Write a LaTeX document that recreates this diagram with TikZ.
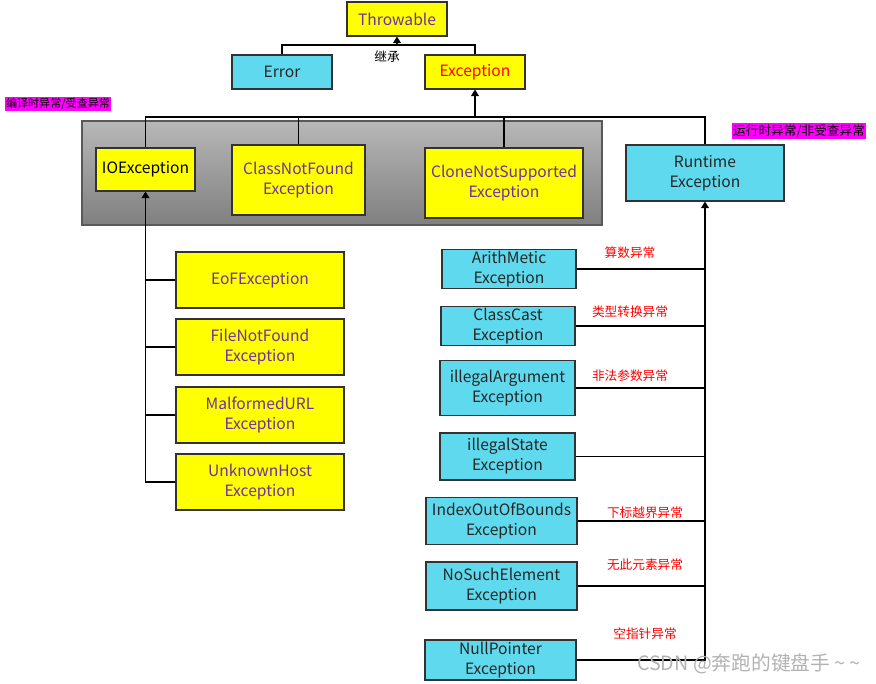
\documentclass[tikz,border=0pt]{standalone}
\usepackage{fontspec}
\setmainfont{Noto Sans CJK SC}
\usepackage{tikz}
\usetikzlibrary{arrows.meta,positioning}
\usepackage{xcolor}

\definecolor{boxyellow}{RGB}{255,255,0}
\definecolor{boxcyan}{RGB}{95,217,238}
\definecolor{txtpurple}{RGB}{112,48,160}
\definecolor{edgegray}{RGB}{50,50,50}
\definecolor{tagmagenta}{RGB}{255,0,255}

\tikzset{
  cls/.style 2 args={draw=edgegray, line width=0.8pt, align=center, inner sep=1pt,
    minimum width=#1*0.75pt, minimum height=#2*0.75pt,
    font=\fontsize{11.7}{15}\selectfont},
  ybox/.style={fill=boxyellow, text=txtpurple},
  cbox/.style={fill=boxcyan, text=black!85},
  tag/.style={fill=tagmagenta, inner sep=1pt, font=\fontsize{9.5}{11}\selectfont},
  note/.style={text=red, font=\fontsize{9.5}{11}\selectfont},
  tip/.style={-{Triangle[width=6pt,length=5pt]}},
}

\begin{document}
\begin{tikzpicture}[x=0.75pt, y=-0.75pt, line width=0.8pt]
  \useasboundingbox (0,0) rectangle (876,684);

  % CHECKED GROUP BACKGROUND
  \node[draw=black!65, line width=1.6pt, top color=black!28, bottom color=black!50,
        minimum width=520*0.75pt, minimum height=104*0.75pt] (grp) at (342,173) {};

  % TOP LEVEL
  \node[cls={100}{34}, ybox] (thr) at (397,19) {Throwable};
  \node[cls={100}{34}, cbox] (err) at (282,72) {Error};
  \node[cls={100}{34}, ybox, text=red] (exc) at (475,72) {Exception};
  \coordinate (j1) at (397,45);
  \draw (err.north) |- (j1) -| (exc.north);
  \draw[tip] (j1) -- (thr.south);
  \node[font=\fontsize{9.5}{11}\selectfont] at (387,57) {继承};

  % CHECKED EXCEPTIONS
  \node[tag, font=\fontsize{8.3}{10}\selectfont] (chklbl) at (58,104) {编译时异常/受查异常};
  \node[cls={99}{43}, ybox, text=black] (io) at (145.5,169.5) {IOException};
  \node[cls={133}{70}, ybox] (cnf) at (298.5,180) {ClassNotFound\\Exception};
  \node[cls={158}{70}, ybox] (cns) at (504,183) {CloneNotSupported\\Exception};

  % RUNTIME
  \node[cls={158}{56}, cbox] (rt) at (705,173) {Runtime\\Exception};
  \node[tag] (rtlbl) at (799,131) {运行时异常/非受查异常};

  % BUS UNDER EXCEPTION
  \coordinate (j2) at (475,117);
  \draw (io.north) |- (j2) -| (rt.north);
  \draw (cnf.north) -- (cnf.north |- j2);
  \draw (cns.north) -- (cns.north |- j2);
  \draw[tip] (j2) -- (exc.south);

  % IO SUBCLASSES
  \foreach \nm/\y/\txt in {eof/280/{EoFException}, fnf/347/{FileNotFound\\Exception},
      mal/415/{MalformedURL\\Exception}, unk/482/{UnknownHost\\Exception}} {
    \node[cls={168}{56}, ybox] (\nm) at (260,\y) {\txt};
    \draw (\nm.west) -- (\nm.west -| io.south);
  }
  \draw[tip] (unk.west) -| (io.south);

  % RUNTIME SUBCLASSES
  \foreach \nm/\x/\y/\w/\h/\txt in {ae/509/269/134/36/{ArithMetic\\Exception},
      cc/508/326/134/36/{ClassCast\\Exception}, ia/507.5/388/135/55/{illegalArgument\\Exception},
      is/507.5/456.5/135/47/{illegalState\\Exception}, ioob/501.5/521/151/47/{IndexOutOfBounds\\Exception},
      nse/501.5/586/151/48/{NoSuchElement\\Exception}, np/500.5/660/151/40/{NullPointer\\Exception}} {
    \node[cls={\w}{\h}, cbox] (\nm) at (\x,\y) {\txt};
    \draw (\nm.east) -- (\nm.east -| rt.south);
  }
  \draw[tip] (np.east) -| (rt.south);

  % NOTES
  \node[note] at (630,253) {算数异常};
  \node[note] at (630,312) {类型转换异常};
  \node[note] at (630,376) {非法参数异常};
  \node[note] at (645,513) {下标越界异常};
  \node[note] at (645,565) {无此元素异常};
  \node[note] at (645,634) {空指针异常};

  \node[text=black!30, font=\fontsize{14.8}{16}\selectfont] at (749,664)
    {CSDN @奔跑的键盘手 \textasciitilde{} \textasciitilde};
\end{tikzpicture}
\end{document}
